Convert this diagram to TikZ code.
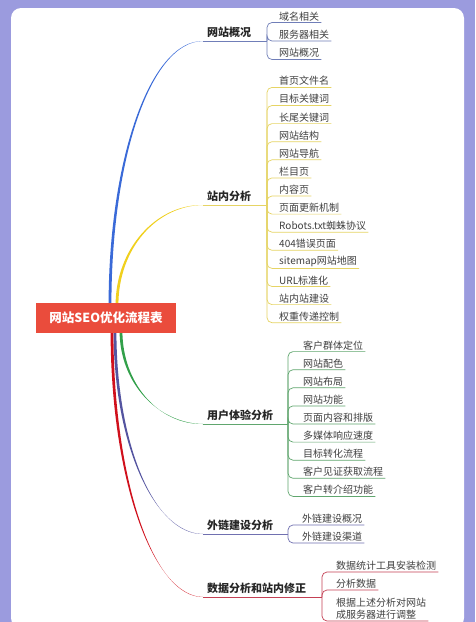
\documentclass[tikz,border=0pt]{standalone}
\usepackage{fontspec}
\setmainfont{Noto Sans CJK SC}
\usetikzlibrary{calc}

\definecolor{frame}{RGB}{155,155,222}
\definecolor{seored}{RGB}{234,76,60}
\definecolor{bblue}{RGB}{58,106,216}
\definecolor{byellow}{RGB}{240,208,30}
\definecolor{bgreen}{RGB}{50,160,74}
\definecolor{bpurple}{RGB}{84,84,160}
\definecolor{bred}{RGB}{208,16,28}
\definecolor{lblue}{RGB}{112,126,184}
\definecolor{lyellow}{RGB}{230,212,100}
\definecolor{lgreen}{RGB}{96,166,110}
\definecolor{lpurple}{RGB}{112,112,176}
\definecolor{lred}{RGB}{196,64,84}

\tikzset{
  root/.style={fill=seored, text=white, font=\fontsize{12.5}{14}\selectfont\bfseries,
    minimum width=140pt, minimum height=30pt, inner sep=0pt},
  topic/.style={anchor=south west, inner xsep=4pt, inner ysep=3pt, text=black!85,
    font=\fontsize{11}{13}\selectfont\bfseries},
  leaf/.style={anchor=south west, inner xsep=2pt, inner ysep=1.5pt, text=black!75,
    font=\fontsize{10}{12}\selectfont, align=left},
  twig/.style={line width=0.7pt, rounded corners=5pt},
}

% tapered main branch: colour, root, control 1, control 2, end
\newcommand{\bough}[5]{%
  \fill[#1] ($(#2)+(-1.4,0)$) .. controls ($(#3)+(-1.4,0)$) and ($(#4)+(0,-0.7)$) .. (#5)
    .. controls ($(#4)+(0,0.7)$) and ($(#3)+(1.4,0)$) .. ($(#2)+(1.4,0)$) -- cycle;}

\begin{document}
\begin{tikzpicture}[x=1pt,y=-1pt]
  \useasboundingbox (0,0) rectangle (475,622);
  \fill[frame] (0,0) rectangle (475,622);
  \fill[white, rounded corners=10pt] (11,8) rectangle (464,628);

  % topics
  \node[topic] (t1) at (203,41) {网站概况};
  \node[topic] (t2) at (203,205) {站内分析};
  \node[topic] (t3) at (203,424) {用户体验分析};
  \node[topic] (t4) at (203,534) {外链建设分析};
  \node[topic] (t5) at (203,597) {数据分析和站内修正};

  \coordinate (r1) at (110,305);
  \coordinate (r2) at (117,305);
  \coordinate (r3) at (121,331);
  \coordinate (r4) at (115,331);
  \coordinate (r5) at (112,331);

  \bough{bblue}{r1}{110,160}{150,41}{t1.south west}
  \bough{byellow}{r2}{117,249}{156,205}{t2.south west}
  \bough{bgreen}{r3}{121,383}{158,424}{t3.south west}
  \bough{bpurple}{r4}{115,444}{154,534}{t4.south west}
  \bough{bred}{r5}{112,479}{153,597}{t5.south west}

  \node[root] (seo) at (106,318) {网站SEO优化流程表};

  \coordinate (k1) at (267,41);
  \coordinate (k2) at (267,205);
  \coordinate (k3) at (288,424);
  \coordinate (k4) at (288,534);
  \coordinate (k5) at (322,597);

  \draw[twig, lblue] (t1.south west) -- (k1);
  \draw[twig, lyellow] (t2.south west) -- (k2);
  \draw[twig, lgreen] (t3.south west) -- (k3);
  \draw[twig, lpurple] (t4.south west) -- (k4);
  \draw[twig, lred] (t5.south west) -- (k5);

  % leaves
  \foreach \t [count=\i] in {域名相关,服务器相关,网站概况}{
    \node[leaf] (ov\i) at (277,{22.5+18.5*(\i-1)}) {\t};
    \draw[twig, lblue] (k1) |- (ov\i.south west) -- (ov\i.south east);
  }

  \foreach \t [count=\i] in {首页文件名,目标关键词,长尾关键词,网站结构,网站导航,
      栏目页,内容页,页面更新机制,Robots.txt蜘蛛协议,404错误页面,
      sitemap网站地图,URL标准化,站内站建设,权重传递控制}{
    \node[leaf] (in\i) at (277,{87.4+18.1*(\i-1)}) {\t};
    \draw[twig, lyellow] (k2) |- (in\i.south west) -- (in\i.south east);
  }

  \foreach \t [count=\i] in {客户群体定位,网站配色,网站布局,网站功能,页面内容和排版,
      多媒体响应速度,目标转化流程,客户见证获取流程,客户转介绍功能}{
    \node[leaf] (ux\i) at (301,{351.6+18.1*(\i-1)}) {\t};
    \draw[twig, lgreen] (k3) |- (ux\i.south west) -- (ux\i.south east);
  }

  \foreach \t [count=\i] in {外链建设概况,外链建设渠道}{
    \node[leaf] (lk\i) at (300,{525+18*(\i-1)}) {\t};
    \draw[twig, lpurple] (k4) |- (lk\i.south west) -- (lk\i.south east);
  }

  \node[leaf] (da1) at (334,572) {数据统计工具安装检测};
  \node[leaf] (da2) at (334,590) {分析数据};
  \node[leaf] (da3) at (334,621) {根据上述分析对网站\\成服务器进行调整};
  \foreach \i in {1,2,3}
    \draw[twig, lred] (k5) |- (da\i.south west) -- (da\i.south east);
\end{tikzpicture}
\end{document}
